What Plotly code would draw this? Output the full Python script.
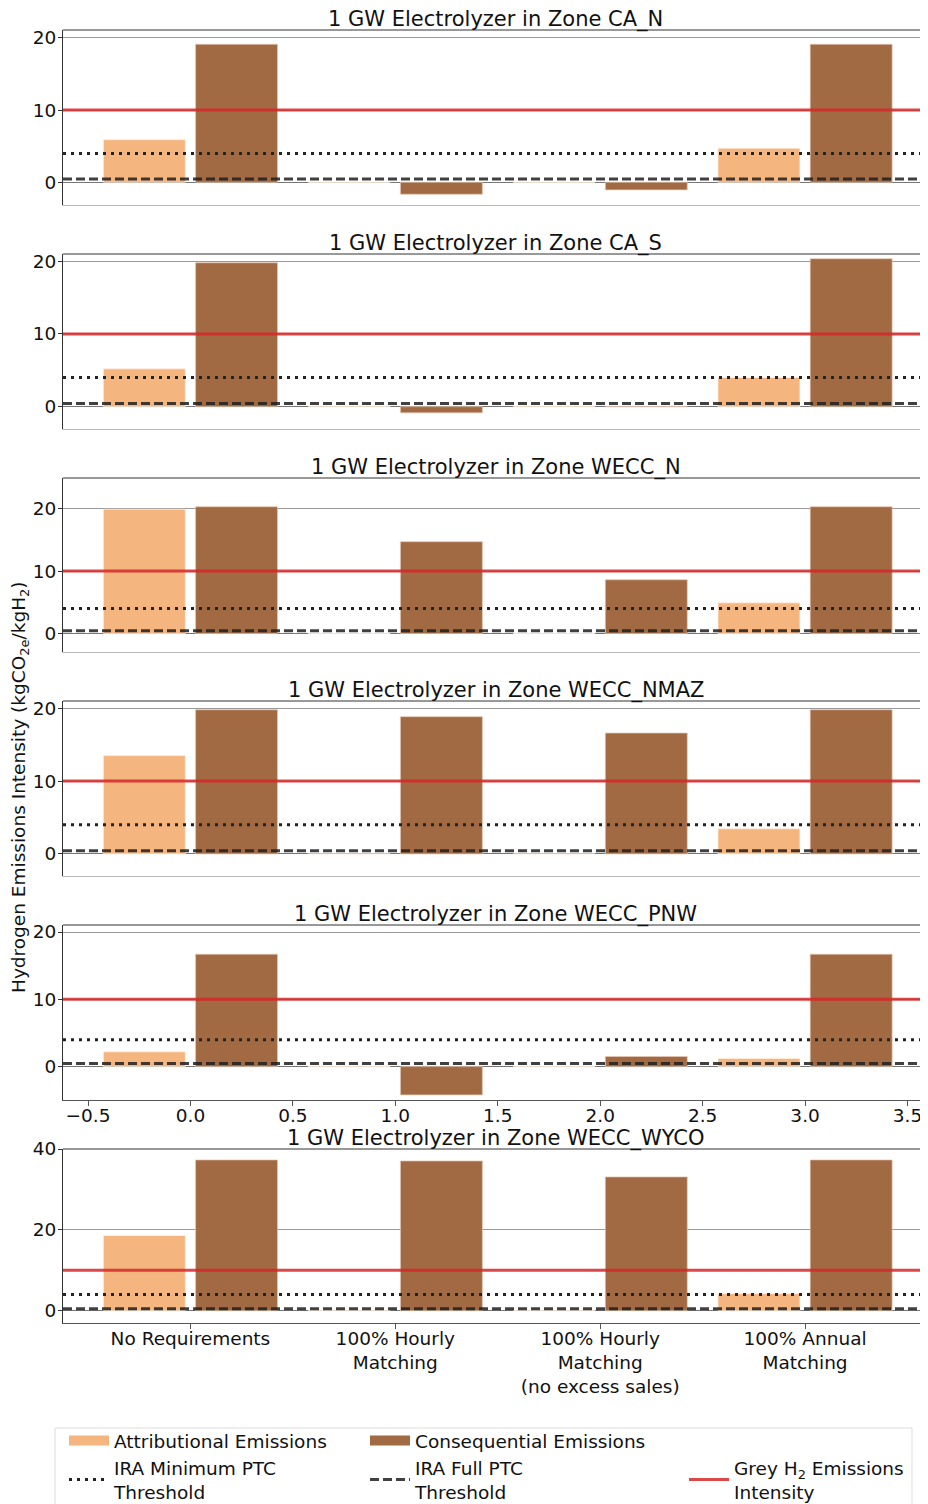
import plotly.graph_objects as go

# ---------------- data ----------------
categories = ["No Requirements", "100% Hourly<br>Matching",
              "100% Hourly<br>Matching<br>(no excess sales)", "100% Annual<br>Matching"]
cat_pos = [0, 1, 2, 3]
zones = ["CA_N", "CA_S", "WECC_N", "WECC_NMAZ", "WECC_PNW", "WECC_WYCO"]

attr_CA_N = [5.9, 0.0, 0.0, 4.7]
attr_CA_S = [5.2, 0.0, 0.0, 4.0]
attr_WECC_N = [19.9, 0.0, 0.0, 4.9]
attr_WECC_NMAZ = [13.5, 0.0, 0.0, 3.45]
attr_WECC_PNW = [2.2, 0.0, 0.0, 1.2]
attr_WECC_WYCO = [18.6, 0.0, 0.0, 4.2]

cons_CA_N = [19.1, -1.65, -1.05, 19.1]
cons_CA_S = [19.8, -0.85, 0.0, 20.35]
cons_WECC_N = [20.3, 14.7, 8.6, 20.3]
cons_WECC_NMAZ = [19.8, 18.85, 16.6, 19.8]
cons_WECC_PNW = [16.7, -4.2, 1.5, 16.7]
cons_WECC_WYCO = [37.3, 37.05, 33.1, 37.3]

attributional = [attr_CA_N, attr_CA_S, attr_WECC_N, attr_WECC_NMAZ, attr_WECC_PNW, attr_WECC_WYCO]
consequential = [cons_CA_N, cons_CA_S, cons_WECC_N, cons_WECC_NMAZ, cons_WECC_PNW, cons_WECC_WYCO]

ira_min_threshold = 4.0
ira_full_threshold = 0.45
grey_h2_intensity = 10.0

y_ranges = [[-3.14, 21.07], [-3.07, 21.0], [-2.97, 24.9], [-3.03, 21.0], [-4.96, 21.04], [-3.05, 40.0]]
y_ticks = [[0, 10, 20]] * 5 + [[0, 20, 40]]
x_range = [-0.622, 3.6]
num_ticks = [-0.5, 0.0, 0.5, 1.0, 1.5, 2.0, 2.5, 3.0, 3.5]

# ---------------- style / layout ----------------
PAGE_OFF = 8          # browser body margin
WIN_W, WIN_H = 928, 1504
W, H = WIN_W - PAGE_OFF, WIN_H - PAGE_OFF
AX_LEFT = 63          # page px
ML = AX_LEFT - PAGE_OFF
PW = W - ML
panel_px = [(30, 205), (254, 429), (478, 652), (701, 876), (925, 1100), (1149, 1323)]
FONT = "DejaVu Sans"
FS = 18.5
FS_TITLE = 21
C_ATTR = "#F5B57F"
C_CONS = "#A26A42"
C_RED = "rgba(214,39,40,0.85)"
C_DOT = "#222222"
C_DASH = "rgba(30,30,30,0.85)"
DOT_STYLE = dict(color=C_DOT, width=3, dash="3px,5px")
DASH_STYLE = dict(color=C_DASH, width=3, dash="9px,4px")


def px_x(p):  # page px -> paper x
    return (p - PAGE_OFF - ML) / PW


def px_y(p):  # page px -> paper y
    return 1 - (p - PAGE_OFF) / H


fig = go.Figure()
shapes = []
annotations = []

for i, zone in enumerate(zones):
    n = "" if i == 0 else str(i + 1)
    xa, ya = "x" + n, "y" + n
    fig.add_trace(go.Bar(x=cat_pos, y=attributional[i], width=0.4, offset=-0.425,
                         marker=dict(color=C_ATTR, line=dict(width=1, color="rgba(255,240,225,0.7)")),
                         xaxis=xa, yaxis=ya, showlegend=False, name="Attributional Emissions"))
    fig.add_trace(go.Bar(x=cat_pos, y=consequential[i], width=0.4, offset=0.025,
                         marker=dict(color=C_CONS, line=dict(width=1, color="rgba(230,200,180,0.7)")),
                         xaxis=xa, yaxis=ya, showlegend=False, name="Consequential Emissions"))
    top, bot = panel_px[i]
    dom = [px_y(bot), px_y(top)]
    xkw = dict(domain=[0, 1], range=x_range, anchor=ya, showgrid=False, zeroline=False,
               showline=True, linewidth=1,
               linecolor="#bbbbbb" if i < 4 else "#555555",
               tickfont=dict(family=FONT, size=FS, color="#111"))
    if i < 4:
        xkw.update(showticklabels=False, ticks="")
    elif i == 4:
        xkw.update(tickmode="array", tickvals=num_ticks, ticks="outside",
                   ticklen=5, tickcolor="#555", tickformat=".1f", ticklabelstandoff=-6)
    else:
        xkw.update(tickmode="array", tickvals=cat_pos, ticktext=categories, ticks="outside",
                   ticklen=5, tickcolor="#555", ticklabelstandoff=-6)
    ykw = dict(domain=dom, range=y_ranges[i], anchor=xa, tickmode="array", tickvals=y_ticks[i],
               showgrid=True, gridcolor="#999999", gridwidth=1, zeroline=True,
               zerolinecolor="#777777", zerolinewidth=1, showline=True, linecolor="#333",
               linewidth=1, ticks="outside", ticklen=4, tickcolor="#333", ticklabelstandoff=-2,
               tickfont=dict(family=FONT, size=FS, color="#111"))
    fig.update_layout(**{"xaxis" + n: xkw, "yaxis" + n: ykw})

    # threshold lines
    shapes.append(dict(type="line", xref=xa + " domain", yref=ya, x0=0, x1=1,
                       y0=grey_h2_intensity, y1=grey_h2_intensity,
                       line=dict(color=C_RED, width=3)))
    shapes.append(dict(type="line", xref=xa + " domain", yref=ya, x0=0, x1=1,
                       y0=ira_min_threshold, y1=ira_min_threshold, line=DOT_STYLE))
    shapes.append(dict(type="line", xref=xa + " domain", yref=ya, x0=0, x1=1,
                       y0=ira_full_threshold, y1=ira_full_threshold, line=DASH_STYLE))
    # top spine
    shapes.append(dict(type="line", xref=xa + " domain", yref=ya + " domain", x0=0, x1=1,
                       y0=1, y1=1, line=dict(color="#333", width=1)))
    annotations.append(dict(text="1 GW Electrolyzer in Zone " + zone, xref=xa + " domain",
                            yref=ya + " domain", x=0.5, y=1, xanchor="center", yanchor="bottom",
                            yshift=-4, showarrow=False,
                            font=dict(family=FONT, size=FS_TITLE, color="#111")))

# legend entries (dummy traces, symbols only)
leg_items = [
    ("Attributional Emissions", dict(color=C_ATTR, width=14), "legend"),
    ("Consequential Emissions", dict(color=C_CONS, width=14), "legend2"),
    ("IRA Minimum PTC<br>Threshold", DOT_STYLE, "legend3"),
    ("IRA Full PTC<br>Threshold", DASH_STYLE, "legend4"),
    ("Grey H<sub>2</sub> Emissions<br>Intensity", dict(color=C_RED, width=3), "legend5"),
]
for name, line, lg in leg_items:
    fig.add_trace(go.Scatter(x=[None], y=[None], mode="lines", line=line, name=name,
                             legend=lg, showlegend=True))

leg_pos = {"legend": (64, 1441), "legend2": (365, 1441), "legend3": (64, 1480),
           "legend4": (365, 1480), "legend5": (684, 1480)}
for lg, (lx, ly) in leg_pos.items():
    fig.update_layout(**{lg: dict(x=px_x(lx), y=px_y(ly), xanchor="left", yanchor="middle",
                                  bgcolor="rgba(0,0,0,0)", borderwidth=0, itemwidth=40,
                                  font=dict(family=FONT, size=FS, color="#111"))})

# legend frame
shapes.append(dict(type="rect", xref="paper", yref="paper", x0=px_x(55), x1=px_x(912),
                   y0=px_y(1515), y1=px_y(1428), line=dict(color="#dddddd", width=1),
                   fillcolor="rgba(0,0,0,0)", layer="below"))

annotations.append(dict(text="Hydrogen Emissions Intensity (kgCO<sub>2e</sub>/kgH<sub>2</sub>)",
                        xref="paper", yref="paper", x=px_x(20), y=px_y(787), textangle=-90,
                        xanchor="center", yanchor="middle", showarrow=False,
                        font=dict(family=FONT, size=FS, color="#111")))

fig.update_layout(width=W, height=H, margin=dict(l=ML, r=0, t=0, b=0, autoexpand=False),
                  paper_bgcolor="white", plot_bgcolor="white", barmode="overlay",
                  shapes=shapes, annotations=annotations,
                  font=dict(family=FONT, size=FS, color="#111"))

fig.write_html("out.html")
